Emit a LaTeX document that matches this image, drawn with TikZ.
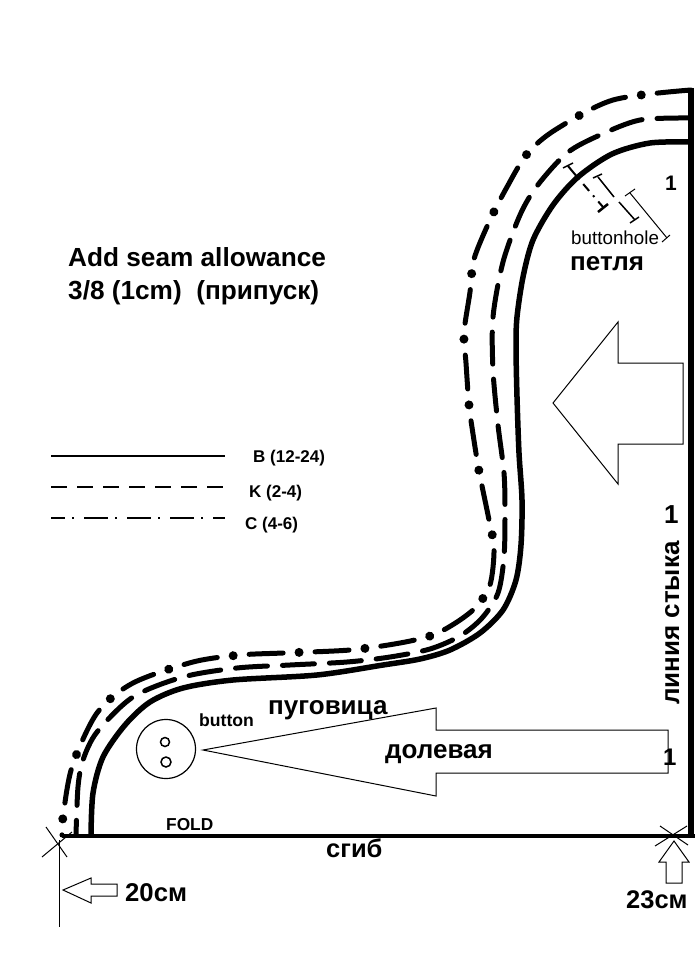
\documentclass[tikz,border=0pt]{standalone}
\usepackage{fontspec}
\setmainfont{Liberation Sans}
\def\curveB{plot[smooth] coordinates {(691, 142) (650, 143) (612, 154) (578, 177) (553, 205) (533, 240) (523, 277) (517, 317) (516, 347) (517, 397) (519, 453) (522, 500) (521, 545) (516, 580) (503, 610) (480, 633) (450, 650) (420, 659) (383, 665) (317, 675) (233, 680) (183, 688) (150, 702) (125, 725) (103, 757) (93, 793) (91, 835)}}
\def\curveK{plot[smooth] coordinates {(689, 118) (640, 120) (600, 135) (567, 153) (537, 186) (520, 215) (503, 262) (493, 317) (493, 370) (498, 425) (504, 473) (505, 513) (504, 557) (498, 593) (482, 618) (460, 636) (430, 649) (390, 657) (347, 662) (290, 665) (237, 668) (183, 677) (133, 697) (97, 732) (83, 760) (78, 787) (76, 835)}}
\def\curveC{plot[smooth] coordinates {(691, 90) (613, 100) (555, 130) (527, 154) (507, 187) (490, 220) (474, 259) (470, 292) (464, 333) (466, 363) (469, 405) (473, 434) (479, 471) (488, 515) (494, 548) (490, 585) (476, 607) (457, 622) (433, 635) (400, 643) (350, 650) (283, 653) (240, 655) (193, 662) (133, 683) (97, 713) (72, 767) (63, 817) (62, 835)}}
\tikzset{
	seamB/.style={line width=5.5pt, line cap=round},
	seamK/.style={line width=5pt, line cap=round, dash pattern=on 32pt off 15pt},
	seamC/.style={line width=5pt, line cap=round, dash pattern=on 34pt off 32pt},
	seamCdot/.style={line width=9pt, line cap=round, dash pattern=on 0.01pt off 65.99pt, dash phase=16pt},
	thinline/.style={line width=1pt},
	label/.style={font=\bfseries, inner sep=0pt, anchor=base west}
}
\begin{document}
\begin{tikzpicture}[x=1pt, y=-1pt]
			%%%%% START %%%%%
			\useasboundingbox (0, 0) rectangle (695, 955);
			
			\draw[line width=6pt] (691, 88) -- (691, 838);
			\draw[line width=3.5pt] (62, 836) -- (695, 836);
			
			\draw[seamB] \curveB;
			\draw[seamK] \curveK;
			\draw[seamC] \curveC;
			\draw[seamCdot] \curveC;
			
			% crosses
			\draw[thinline] (46, 827) -- (67, 857);
			\draw[thinline] (42, 857) -- (72, 832);
			\draw[thinline] (59, 840) -- (59, 927);
			\draw[thinline] (660, 826) -- (688, 845);
			\draw[thinline] (655, 846) -- (687, 826);
			
			% arrows
			\draw[thinline] (553, 403) -- (618, 322) -- (618, 363) -- (683, 363) -- (683, 444) -- (618, 444) -- (618, 484) -- cycle;
			\draw[thinline] (203, 750) -- (436, 708) -- (436, 730) -- (668, 730) -- (668, 773) -- (436, 773) -- (436, 796) -- cycle;
			\draw[thinline] (63, 890) -- (91, 878) -- (91, 884) -- (117, 884) -- (117, 896) -- (91, 896) -- (91, 903) -- cycle;
			\draw[thinline] (674, 841) -- (689, 862) -- (682, 862) -- (682, 883) -- (666, 883) -- (666, 862) -- (659, 862) -- cycle;
			
			% button
			\draw[line width=1.2pt] (166, 749) circle (29.5);
			\draw[line width=1.5pt] (165, 742) circle (4.5);
			\draw[line width=1.5pt] (166, 762) circle (5);
			
			% buttonhole
			\draw[line width=2pt] (568, 166) -- (578, 178);
			\draw[line width=2pt, dash pattern=on 2pt off 6pt on 9pt off 6pt] (578, 178) -- (603, 207);
			\draw[line width=1.5pt] (563, 168) -- (573, 163);
			\draw[line width=2.5pt] (598, 212) -- (608, 204);
			\draw[line width=1.5pt] (598, 177) -- (614, 197);
			\draw[line width=1.5pt] (619, 202) -- (635, 220);
			\draw[line width=1.5pt] (593, 178) -- (602, 174);
			\draw[line width=1.5pt] (630, 223) -- (639, 217);
			\draw[thinline] (630, 193) -- (667, 238);
			\draw[thinline] (625, 196) -- (635, 189);
			\draw[thinline] (662, 242) -- (670, 235);
			
			% legend
			\draw[line width=2pt] (51, 456) -- (225, 456);
			\draw[line width=2.5pt, dash pattern=on 16pt off 10pt] (51, 487) -- (225, 487);
			\draw[line width=2pt, dash pattern=on 24pt off 7pt on 2pt off 10pt, dash phase=10pt] (51, 518) -- (225, 518);
			
			% labels
			\node[label, font=\bfseries\fontsize{26.2}{26}\selectfont] (addseam) at (68, 266) {Add seam allowance};
			\node[label, font=\bfseries\fontsize{26.2}{26}\selectfont] (seamsize) at (68, 299) {3/8 (1cm)\ \ (припуск)};
			\node[label, font=\bfseries\fontsize{17}{17}\selectfont] (legendB) at (253, 462) {B (12-24)};
			\node[label, font=\bfseries\fontsize{17}{17}\selectfont] (legendK) at (249, 497) {K (2-4)};
			\node[label, font=\bfseries\fontsize{17}{17}\selectfont] (legendC) at (245, 529) {C (4-6)};
			\node[label, font=\fontsize{18.8}{19}\selectfont] (buttonholetext) at (571, 244) {buttonhole};
			\node[label, font=\bfseries\fontsize{26}{26}\selectfont] (petlya) at (570, 270) {петля};
			\node[label, font=\bfseries\fontsize{21}{21}\selectfont] (numA) at (665, 190) {1};
			\node[label, font=\bfseries\fontsize{26}{26}\selectfont] (numB) at (664, 523) {1};
			\node[label, font=\bfseries\fontsize{24}{24}\selectfont] (numC) at (663, 765) {1};
			\node[label, font=\bfseries\fontsize{26}{26}\selectfont, rotate=90] (joinline) at (679, 705) {линия стыка};
			\node[label, font=\bfseries\fontsize{26}{26}\selectfont] (pugovitsa) at (268, 714) {пуговица};
			\node[label, font=\bfseries\fontsize{17.6}{18}\selectfont] (buttontext) at (199, 726) {button};
			\node[label, font=\bfseries\fontsize{26}{26}\selectfont] (dolevaya) at (385, 758) {долевая};
			\node[label, font=\bfseries\fontsize{17.3}{17}\selectfont] (foldtext) at (166, 830) {FOLD};
			\node[label, font=\bfseries\fontsize{25.5}{26}\selectfont] (sgib) at (326, 857) {сгиб};
			\node[label, font=\bfseries\fontsize{25.7}{26}\selectfont] (left20) at (125, 901) {20см};
			\node[label, font=\bfseries\fontsize{25.5}{26}\selectfont] (right23) at (626, 908) {23см};
			
			%%%%% END %%%%%
		\end{tikzpicture}
\end{document}
